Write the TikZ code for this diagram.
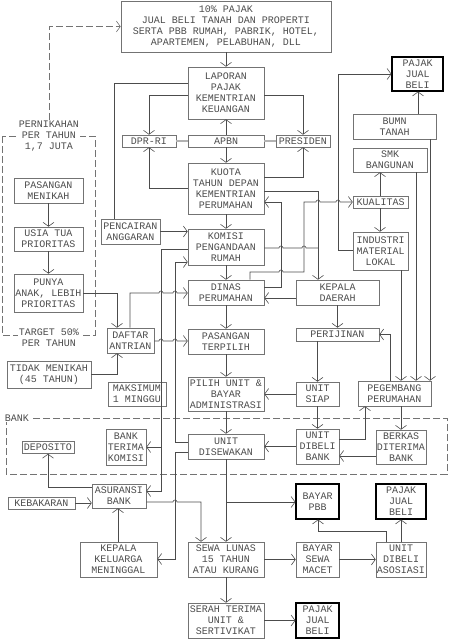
\documentclass[tikz,border=0pt]{standalone}
\usepackage{fontspec}
\setmonofont{Liberation Mono}
\usetikzlibrary{arrows.meta}
\definecolor{boxline}{gray}{0.45}
\definecolor{wire}{gray}{0.3}
\definecolor{tulisan}{gray}{0.3}
\tikzset{
  box/.style={draw=boxline, line width=0.6pt, align=center, inner sep=0pt,
    font=\ttfamily\fontsize{10}{11}\selectfont, text=tulisan},
  ukuran/.style 2 args={minimum width=#1, minimum height=#2},
  tebal/.style={box, draw=black, line width=1.1pt},
  wire/.style={draw=wire, line width=0.6pt},
  arr/.style={wire, -{Straight Barb[length=4pt,width=11pt]}},
  putus/.style={draw=boxline, line width=0.6pt, dash pattern=on 7pt off 3pt},
  gandeng/.style={draw=gray!60, line width=1.8pt},
  label/.style={fill=white, inner sep=1pt, align=center,
    font=\ttfamily\fontsize{10}{11}\selectfont, text=tulisan}
}
\begin{document}
\begin{tikzpicture}[x=1pt, y=-1pt]
\useasboundingbox (0,0) rectangle (448,640);

% kolom tengah
\node[box, ukuran={210}{51}] (pajakAtas) at (226,26.5) {10\% PAJAK\\JUAL BELI TANAH DAN PROPERTI\\SERTA PBB RUMAH, PABRIK, HOTEL,\\APARTEMEN, PELABUHAN, DLL};
\node[box, ukuran={76}{52}] (laporan) at (226,93) {LAPORAN\\PAJAK\\KEMENTRIAN\\KEUANGAN};
\node[box, ukuran={54}{12}] (dpr) at (149,141) {DPR-RI};
\node[box, ukuran={76}{12}] (apbn) at (226,141) {APBN};
\node[box, ukuran={54}{12}] (presiden) at (303,141) {PRESIDEN};
\node[box, ukuran={76}{51}] (kuota) at (226,188.5) {KUOTA\\TAHUN DEPAN\\KEMENTRIAN\\PERUMAHAN};
\node[box, ukuran={76}{36}] (komisi) at (226,247) {KOMISI\\PENGANDAAN\\RUMAH};
\node[box, ukuran={76}{25}] (dinas) at (226,292.5) {DINAS\\PERUMAHAN};
\node[box, ukuran={76}{25}] (pasangan) at (226,341.5) {PASANGAN\\TERPILIH};
\node[box, ukuran={76}{34}] (pilih) at (226,394) {PILIH UNIT \&\\BAYAR\\ADMINISTRASI};
\node[box, ukuran={76}{25}] (disewakan) at (226,446.5) {UNIT\\DISEWAKAN};
\node[box, ukuran={76}{35}] (sewa) at (226,559.5) {SEWA LUNAS\\15 TAHUN\\ATAU KURANG};
\node[box, ukuran={76}{35}] (serah) at (226,620.5) {SERAH TERIMA\\UNIT \&\\SERTIVIKAT};

% kolom kanan
\node[tebal, ukuran={51}{34}] (pajakKanan) at (417.5,74) {PAJAK\\JUAL\\BELI};
\node[box, ukuran={83}{25}] (bumn) at (394.5,126.5) {BUMN\\TANAH};
\node[box, ukuran={74}{24}] (smk) at (390,160) {SMK\\BANGUNAN};
\node[box, ukuran={55}{12}] (kualitas) at (380.5,202) {KUALITAS};
\node[box, ukuran={55}{38}] (industri) at (380.5,251) {INDUSTRI\\MATERIAL\\LOKAL};
\node[box, ukuran={83}{25}] (kepala) at (337.5,292.5) {KEPALA\\DAERAH};
\node[box, ukuran={83}{13}] (perijinan) at (337.5,334.5) {PERIJINAN};
\node[box, ukuran={43}{24}] (siap) at (317.5,394) {UNIT\\SIAP};
\node[box, ukuran={43}{35}] (dibeli) at (317.5,446.5) {UNIT\\DIBELI\\BANK};
\node[box, ukuran={73}{25}] (pengembang) at (394.5,393.5) {PEGEMBANG\\PERUMAHAN};
\node[box, ukuran={50}{34}] (berkas) at (401,447) {BERKAS\\DITERIMA\\BANK};
\node[tebal, ukuran={43}{35}] (pbb) at (317.5,501.5) {BAYAR\\PBB};
\node[box, ukuran={43}{35}] (macet) at (317.5,559.5) {BAYAR\\SEWA\\MACET};
\node[tebal, ukuran={50}{35}] (pajakBawah) at (401,501.5) {PAJAK\\JUAL\\BELI};
\node[box, ukuran={50}{35}] (asosiasi) at (401,559.5) {UNIT\\DIBELI\\ASOSIASI};
\node[tebal, ukuran={43}{35}] (pajakSerah) at (317.5,620.5) {PAJAK\\JUAL\\BELI};

% kolom kiri
\draw[putus] (2,136) rectangle (95,335);
\draw[putus] (6,418) rectangle (447,474);
\node[label] (nikahLabel) at (49,136) {PERNIKAHAN\\PER TAHUN\\1,7 JUTA};
\node[label] (targetLabel) at (49,338) {TARGET 50\%\\PER TAHUN};
\node[label] (bankLabel) at (17,418) {BANK};
\node[box, ukuran={59}{25}] (pencairan) at (130.5,231.5) {PENCAIRAN\\ANGGARAN};
\node[box, ukuran={69}{25}] (menikah) at (48.5,190.5) {PASANGAN\\MENIKAH};
\node[box, ukuran={69}{24}] (usia) at (48.5,239) {USIA TUA\\PRIORITAS};
\node[box, ukuran={69}{38}] (punya) at (48.5,293) {PUNYA\\ANAK, LEBIH\\PRIORITAS};
\node[box, ukuran={47}{25}] (daftar) at (130.5,340.5) {DAFTAR\\ANTRIAN};
\node[box, ukuran={84}{27}] (tidak) at (49,374.5) {TIDAK MENIKAH\\(45 TAHUN)};
\node[box, ukuran={58}{24}] (maksimum) at (137,394) {MAKSIMUM\\1 MINGGU};
\node[box, ukuran={52}{12}] (deposito) at (48,447.5) {DEPOSITO};
\node[box, ukuran={40}{36}] (bankKomisi) at (126,447) {BANK\\TERIMA\\KOMISI};
\node[box, ukuran={54}{24}] (asuransi) at (119,496) {ASURANSI\\BANK};
\node[box, ukuran={67}{12}] (kebakaran) at (41.5,503) {KEBAKARAN};
\node[box, ukuran={77}{35}] (meninggal) at (118.5,559.5) {KEPALA\\KELUARGA\\MENINGGAL};

% panah tengah
\draw[putus, -{Straight Barb[length=4pt,width=11pt]}] (nikahLabel.north) |- (pajakAtas.west);
\draw[arr] (pajakAtas.south) -- (laporan.north);
\draw[gandeng] (dpr.east) -- (apbn.west);
\draw[gandeng] (apbn.east) -- (presiden.west);
\draw[arr] (apbn.north) -- (laporan.south);
\draw[arr] (apbn.south) -- (kuota.north);
\draw[arr] (laporan.west |- 0,95) -| (dpr.north);
\draw[arr] (laporan.east |- 0,95) -| (presiden.north);
\draw[arr] (kuota.west |- 0,188) -| (dpr.south);
\draw[arr] (kuota.east |- 0,177) -| (presiden.south);
\draw[wire] (laporan.west |- 0,83) -| (114,0 |- pencairan.north);
\draw[arr] (pencairan.east) -- (komisi.west |- pencairan.east);
\draw[arr] (kuota.south) -- (komisi.north);
\draw[arr] (komisi.south) -- (dinas.north);
\draw[arr] (dinas.south) -- (pasangan.north);
\draw[arr] (pasangan.south) -- (pilih.north);
\draw[arr] (pilih.south) -- (disewakan.north);
\draw[arr] (disewakan.south) -- (sewa.north);
\draw[arr] (sewa.south) -- (serah.north);

% panah kanan
\draw[arr] (kuota.east |- 0,191) -| (318,0 |- kepala.north);
\draw[arr] (dinas.east |- 0,287) -| (281,202) -- (kuota.east |- 0,202);
\draw[wire] (komisi.east |- 0,248) -- (279,248) arc[start angle=180, end angle=360, radius=2]
  -- (302,248) arc[start angle=180, end angle=360, radius=2] -- (318,248);
\draw[arr] (250,0 |- dinas.north) -- (250,272) -- (279,272) arc[start angle=180, end angle=360, radius=2]
  -- (304,272) -- (304,202) -- (316,202) arc[start angle=180, end angle=360, radius=2]
  -- (336,202) arc[start angle=180, end angle=360, radius=2] -- (kualitas.west);
\draw[arr] (kepala.west |- 0,298) -- (dinas.east |- 0,298);
\draw[arr] (kepala.south) -- (perijinan.north);
\draw[arr] (390,0 |- pengembang.north) |- (perijinan.east);
\draw[arr] (siap.north |- perijinan.south) -- (siap.north);
\draw[arr] (siap.west) -- (pilih.east);
\draw[arr] (siap.south) -- (dibeli.north);
\draw[arr] (dibeli.west) -- (disewakan.east);
\draw[arr] (dibeli.east |- 0,439) -| (365,0 |- pengembang.south);
\draw[arr] (berkas.north |- pengembang.south) -- (berkas.north);
\draw[arr] (berkas.west |- 0,456) -- (dibeli.east |- 0,456);
\draw[arr] (401,0 |- industri.south) -- (401,0 |- pengembang.north);
\draw[arr] (416,0 |- smk.south) -- (416,0 |- pengembang.north);
\draw[arr] (430,0 |- bumn.south) -- (430,0 |- pengembang.north);
\draw[arr] (industri.west |- 0,250) -- (338,250) -- (338,74) -- (pajakKanan.west);
\draw[arr] (418,0 |- bumn.north) -- (418,0 |- pajakKanan.south);
\draw[arr] (380,0 |- kualitas.north) -- (380,0 |- smk.south);
\draw[arr] (380,0 |- kualitas.south) -- (380,0 |- industri.north);

% panah kiri
\draw[arr] (menikah.south) -- (usia.north);
\draw[arr] (usia.south) -- (punya.north);
\draw[arr] (punya.east) -| (117,0 |- daftar.north);
\draw[arr] (130,0 |- daftar.north) -- (130,293) -- (159,293) arc[start angle=180, end angle=360, radius=2]
  -- (173,293) arc[start angle=180, end angle=360, radius=2] -- (dinas.west |- 0,293);
\draw[arr] (daftar.east |- 0,341) -- (159,341) arc[start angle=180, end angle=360, radius=2]
  -- (173,341) arc[start angle=180, end angle=360, radius=2] -- (pasangan.west |- 0,341);
\draw[arr] (tidak.east) -| (117,0 |- daftar.south);
\draw[arr] (komisi.west |- 0,249) -| (161,491) -- (asuransi.east |- 0,491);
\draw[arr] (161,447) -- (bankKomisi.east |- 0,447);
\draw[arr] (disewakan.west |- 0,442) -| (175,262) -- (komisi.west |- 0,262);
\draw[arr] (disewakan.west |- 0,452) -| (175,559) -- (meninggal.east |- 0,559);
\draw[arr] (asuransi.east |- 0,502) -- (173,502) arc[start angle=180, end angle=360, radius=2]
  -- (201,502) -- (201,0 |- sewa.north);
\draw[arr] (kebakaran.east) -- (asuransi.west |- kebakaran.east);
\draw[arr] (118,0 |- meninggal.north) -- (118,0 |- asuransi.south);
\draw[arr] (asuransi.west |- 0,487) -| (deposito.south);

% panah bawah
\draw[arr] (disewakan.south |- 0,502) -- (pbb.west |- 0,502);
\draw[arr] (sewa.east) -- (macet.west);
\draw[arr] (macet.east) -- (asosiasi.west);
\draw[arr] (asosiasi.north) -- (pajakBawah.south);
\draw[arr] (386,0 |- asosiasi.north) -- (386,531) -| (318,0 |- pbb.south);
\draw[arr] (serah.east) -- (pajakSerah.west);
\end{tikzpicture}
\end{document}
